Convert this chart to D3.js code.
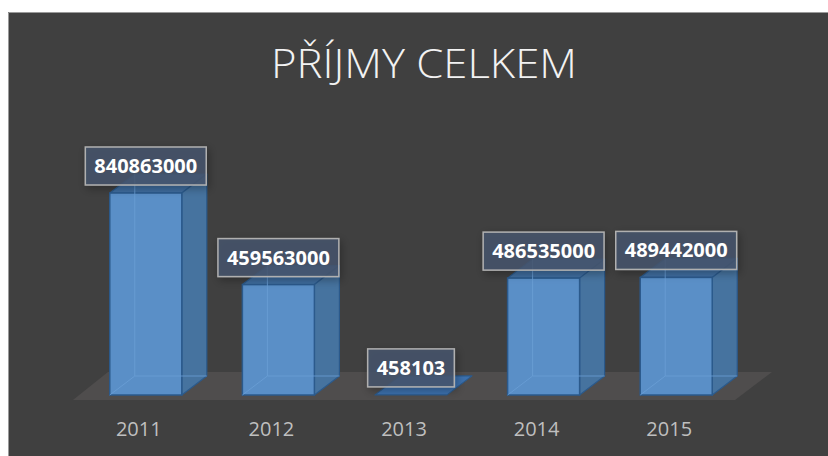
<!DOCTYPE html>
<html>
<head>
<meta charset="utf-8">
<script src="https://cdn.jsdelivr.net/npm/d3@7"></script>
<style>
  html, body { margin: 0; padding: 0; background: #ffffff; }
  svg { display: block; }
</style>
</head>
<body>
<svg id="chart" width="828" height="456"></svg>
<script>
const title = "PŘÍJMY CELKEM";
const years = ["2011", "2012", "2013", "2014", "2015"];
const values = [840863000, 459563000, 458103, 486535000, 489442000];
const labels = ["840863000", "459563000", "458103", "486535000", "489442000"];

const W = 828, H = 456;
const svg = d3.select("#chart");

const defs = svg.append("defs");
const f = defs.append("filter").attr("id", "shadow").attr("x", "-30%").attr("y", "-50%").attr("width", "160%").attr("height", "200%");
f.append("feDropShadow").attr("dx", 2).attr("dy", 3).attr("stdDeviation", 4).attr("flood-color", "#000").attr("flood-opacity", 0.35);

// background
svg.append("rect").attr("x", 8).attr("y", 12).attr("width", W - 8).attr("height", H - 12)
  .attr("fill", "#404040");
svg.append("path").attr("d", `M8.5,${H} V12.5 H${W}`).attr("fill", "none").attr("stroke", "#9a9a9a").attr("stroke-width", 1);

// title
const t = svg.append("text").attr("x", 424).attr("y", 78).attr("text-anchor", "middle")
  .attr("font-family", "'Open Sans', sans-serif").attr("font-size", 41).attr("font-weight", 300)
  .attr("fill", "#f2f2f2").text(title);
t.attr("textLength", 306).attr("lengthAdjust", "spacingAndGlyphs");

// scales
const x = d3.scaleBand().domain(years).range([70, 752]).paddingInner(0.457).paddingOuter(0.3);
const y = d3.scaleLinear().domain([0, 900000000]).range([395, 395 - 202 * 900 / 840.863]);
const dx = 25, dy = -19;
const base = y(0);

// floor
const fl = x.range()[0] + 3, fr = x.range()[1] - 17;
svg.append("polygon")
  .attr("points", [[fl, base + 5], [fr, base + 5], [fr + 37, base - 23], [fl + 35, base - 23]].map(p => p.join(",")).join(" "))
  .attr("fill", "#4f4d4d");

const data = years.map((yr, i) => ({ yr, v: values[i], lab: labels[i] }));
const g = svg.append("g");

const edge = "#2b5a8c";
data.forEach(d => {
  const x0 = x(d.yr), w = x.bandwidth(), top = y(d.v);
  const bg = g.append("g");
  // top face
  bg.append("polygon")
    .attr("points", [[x0, top], [x0 + dx, top + dy], [x0 + w + dx, top + dy], [x0 + w, top]].map(p => p.join(",")).join(" "))
    .attr("fill", "#3f6d9f").attr("stroke", edge).attr("stroke-width", 1.2).attr("stroke-linejoin", "round");
  if (base - top > 1) {
    // side face
    bg.append("polygon")
      .attr("points", [[x0 + w, top], [x0 + w + dx, top + dy], [x0 + w + dx, base + dy], [x0 + w, base]].map(p => p.join(",")).join(" "))
      .attr("fill", "#46739f").attr("stroke", edge).attr("stroke-width", 1.2).attr("stroke-linejoin", "round");
    // front face
    bg.append("rect").attr("x", x0).attr("y", top).attr("width", w).attr("height", base - top)
      .attr("fill", "#5a8fc7").attr("stroke", edge).attr("stroke-width", 1.5);
    // hidden back edges seen through
    bg.append("path")
      .attr("d", `M${x0 + dx},${top + dy} V${base + dy} H${x0 + w + dx} M${x0},${base} L${x0 + dx},${base + dy}`)
      .attr("fill", "none").attr("stroke", "#6a9fd6").attr("stroke-width", 1).attr("opacity", 0.8);
  } else {
    bg.select("polygon").attr("fill", "#3c70ad");
  }
});

// value labels
data.forEach(d => {
  const cx = x(d.yr) + x.bandwidth() / 2, top = y(d.v);
  const lg = g.append("g");
  const txt = lg.append("text").attr("x", cx).attr("text-anchor", "middle")
    .attr("font-family", "'Open Sans', sans-serif").attr("font-size", 20).attr("font-weight", 700)
    .attr("fill", "#ffffff").text(d.lab);
  const tw = txt.node().getComputedTextLength();
  const bw = tw + 18, bh = 38, by = top - 8 - bh;
  lg.insert("rect", "text").attr("x", cx - bw / 2).attr("y", by).attr("width", bw).attr("height", bh)
    .attr("fill", "rgba(70,86,108,0.82)").attr("stroke", "#b0b0b0").attr("stroke-width", 1.5)
    .attr("filter", "url(#shadow)");
  txt.attr("y", by + bh / 2 + 7);
});

// x axis
const axis = svg.append("g").attr("transform", `translate(-7,${base + 27})`)
  .call(d3.axisBottom(x).tickSize(0).tickPadding(0));
axis.select(".domain").remove();
axis.selectAll("text").attr("font-family", "'Open Sans', sans-serif").attr("font-size", 20)
  .attr("fill", "#bfbfbf").attr("dy", "0.71em");
</script>
</body>
</html>
